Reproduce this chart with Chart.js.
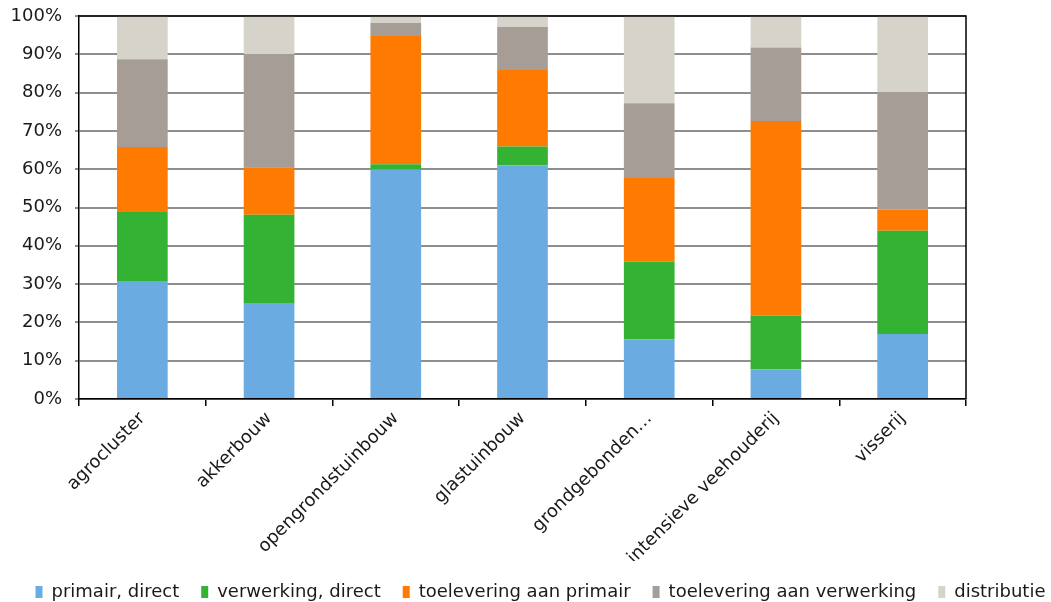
<!DOCTYPE html>
<html>
<head>
<meta charset="utf-8">
<script src="https://cdn.jsdelivr.net/npm/chart.js@4"></script>
<style>
html,body{margin:0;padding:0;background:#fff;}
#wrap{width:1051px;height:602px;position:relative;}
</style>
</head>
<body>
<div id="wrap"><canvas id="c" width="1051" height="602"></canvas></div>
<script>
const categories = ['agrocluster','akkerbouw','opengrondstuinbouw','glastuinbouw','grondgebonden…','intensieve veehouderij','visserij'];
const primairDirect = [30.6, 24.9, 59.9, 61.0, 15.6, 7.8, 17.0];
const verwerkingDirect = [18.4, 23.2, 1.4, 4.9, 20.3, 14.0, 26.9];
const toeleveringPrimair = [16.8, 12.4, 33.5, 20.0, 21.8, 50.8, 5.6];
const toeleveringVerwerking = [22.9, 29.6, 3.4, 11.2, 19.5, 19.2, 30.6];
const distributie = [11.3, 9.9, 1.8, 2.9, 22.8, 8.2, 19.9];
const yTicks = [0,10,20,30,40,50,60,70,80,90,100];

const FONT = 'DejaVu Sans';
Chart.defaults.font.family = FONT;
Chart.defaults.color = '#1a1a1a';

const frame = {
  id: 'frame',
  afterDatasetsDraw(chart) {
    const {ctx, chartArea: a} = chart;
    ctx.save();
    ctx.strokeStyle = '#000';
    ctx.lineWidth = 1.5;
    ctx.beginPath();
    ctx.moveTo(a.left, a.top);
    ctx.lineTo(a.right, a.top);
    ctx.lineTo(a.right, a.bottom);
    ctx.stroke();
    ctx.restore();
  }
};

new Chart(document.getElementById('c'), {
  type: 'bar',
  data: {
    labels: categories,
    datasets: [
      {label: 'primair, direct', data: primairDirect, backgroundColor: '#6AACE2'},
      {label: 'verwerking, direct', data: verwerkingDirect, backgroundColor: '#34B233'},
      {label: 'toelevering aan primair', data: toeleveringPrimair, backgroundColor: '#FF7A00'},
      {label: 'toelevering aan verwerking', data: toeleveringVerwerking, backgroundColor: '#A59D96'},
      {label: 'distributie', data: distributie, backgroundColor: '#D6D3CB'}
    ]
  },
  options: {
    responsive: false,
    animation: false,
    devicePixelRatio: 1,
    layout: {padding: {left: 0, right: -30, top: 16, bottom: -9}},
    datasets: {bar: {barPercentage: 0.4, categoryPercentage: 1.0, borderWidth: 0}},
    plugins: {
      legend: {
        position: 'bottom',
        labels: {boxWidth: 7, boxHeight: 12, padding: 22, font: {size: 18, family: FONT}, color: '#1a1a1a'}
      },
      tooltip: {enabled: false}
    },
    scales: {
      x: {
        stacked: true,
        grid: {offset: true, drawOnChartArea: false, drawTicks: true, tickLength: 7, color: '#000', lineWidth: 1.5},
        border: {display: true, color: '#000', width: 1.5},
        ticks: {minRotation: 45, maxRotation: 45, autoSkip: false, font: {size: 18, family: FONT}, color: '#1a1a1a', padding: 2},
        afterFit(s) { s.height = 162; }
      },
      y: {
        stacked: true,
        min: 0, max: 100,
        afterBuildTicks(s) { s.ticks = yTicks.map(v => ({value: v})); },
        grid: {color: '#8e8e8e', lineWidth: 2, drawTicks: true, tickLength: 4},
        border: {display: true, color: '#000', width: 1.5},
        ticks: {callback: v => v + '%', font: {size: 18, family: FONT}, color: '#1a1a1a', padding: 13},
        afterFit(s) { s.width = 79; s.paddingTop = 0; s.paddingBottom = 0; }
      },
      spacer: {
        type: 'linear',
        position: 'right',
        display: true,
        grid: {display: false},
        border: {display: false},
        ticks: {display: false},
        afterFit(s) { s.width = 115; s.paddingTop = 0; s.paddingBottom = 0; }
      }
    }
  },
  plugins: [frame]
});
</script>
</body>
</html>
